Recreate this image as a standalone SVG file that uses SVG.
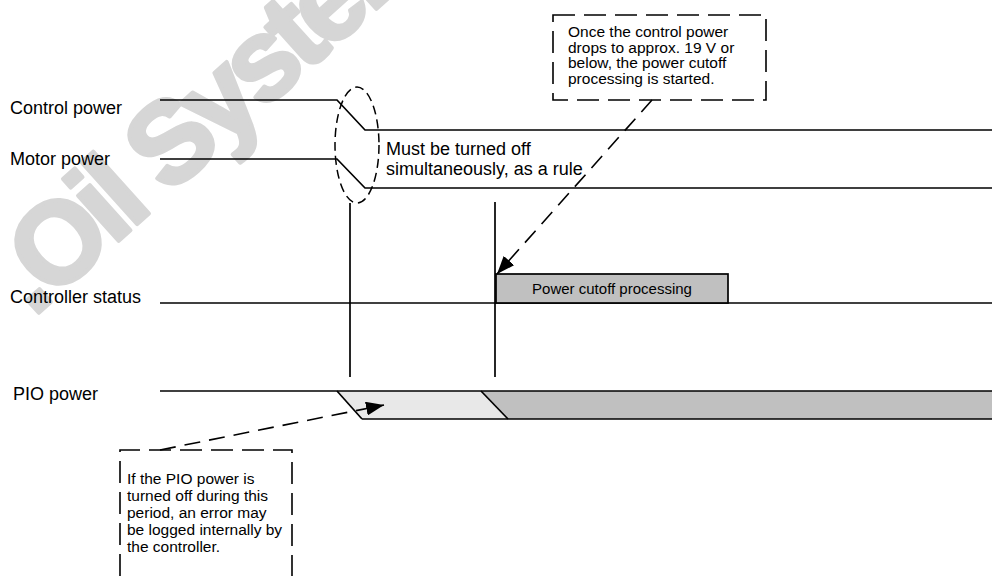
<svg xmlns="http://www.w3.org/2000/svg" width="992" height="576" viewBox="0 0 992 576">
<style>
text{font-family:"Liberation Sans",Arial,sans-serif;fill:#000}
.lbl{font-size:18px}
.note{font-size:15.5px}
.sig{fill:none;stroke:#000;stroke-width:1.7}
.dash{fill:none;stroke:#000;stroke-width:1.6;stroke-dasharray:22 9}
.arr{fill:none;stroke:#000;stroke-width:1.6;stroke-dasharray:16 9}
.wm{font-family:"Liberation Sans",Arial,sans-serif;font-weight:bold;font-size:115px;letter-spacing:-7px;fill:#d6d6d6;stroke:#d6d6d6;stroke-width:4;stroke-linejoin:round}
</style>
<defs>
<marker id="ah" markerUnits="userSpaceOnUse" markerWidth="18" markerHeight="14" refX="18" refY="7" orient="auto">
<path d="M0,0 L18,7 L0,14 z" fill="#000" stroke="none"/>
</marker>
</defs>
<rect width="992" height="576" fill="#fff"/>
<g id="watermark">
<text class="wm" transform="translate(33,318) rotate(-42)">.Oil Systems</text>
</g>
<g id="control-power">
<text class="lbl" x="10" y="114">Control power</text>
<polyline class="sig" points="160,100 337,100 365,130 992,130"/>
</g>
<g id="motor-power">
<text class="lbl" x="10" y="165">Motor power</text>
<polyline class="sig" points="160,159 337,159 365,188 992,188"/>
</g>
<g id="controller-status">
<text class="lbl" x="10" y="303">Controller status</text>
<line class="sig" x1="160" y1="303" x2="992" y2="303"/>
<rect x="496" y="274" width="232" height="29" fill="#c0c0c0" stroke="#000" stroke-width="1.7"/>
<text x="612" y="294" font-size="15" text-anchor="middle">Power cutoff processing</text>
</g>
<g id="pio-power">
<text class="lbl" x="13" y="400">PIO power</text>
<polygon points="337,391 481,391 508,419 362,419" fill="#e8e8e8"/>
<polygon points="481,391 992,391 992,419 508,419" fill="#c0c0c0"/>
<line class="sig" x1="160" y1="391" x2="992" y2="391"/>
<line class="sig" x1="362" y1="419" x2="992" y2="419"/>
<line class="sig" x1="337" y1="391" x2="362" y2="419"/>
<line class="sig" x1="481" y1="391" x2="508" y2="419"/>
</g>
<g id="note-simultaneous">
<ellipse cx="357" cy="145" rx="22" ry="58" fill="none" stroke="#000" stroke-width="1.5" stroke-dasharray="9 5"/>
<text class="lbl" x="386" y="155">Must be turned off</text>
<text class="lbl" x="386" y="175">simultaneously, as a rule</text>
</g>
<g id="note-cutoff">
<rect class="dash" x="553" y="15" width="213" height="85"/>
<text class="note" x="568" y="37">Once the control power</text>
<text class="note" x="568" y="52.6">drops to approx. 19 V or</text>
<text class="note" x="568" y="68.2">below, the power cutoff</text>
<text class="note" x="568" y="83.8">processing is started.</text>
</g>
<g id="note-pio">
<polyline class="dash" points="120,576 120,450 292,450 292,576"/>
<text class="note" x="127" y="484">If the PIO power is</text>
<text class="note" x="127" y="501">turned off during this</text>
<text class="note" x="127" y="518">period, an error may</text>
<text class="note" x="127" y="535">be logged internally by</text>
<text class="note" x="127" y="552">the controller.</text>
</g>
<g id="connectors">
<line class="sig" x1="350" y1="203" x2="350" y2="377"/>
<line class="sig" x1="495" y1="202" x2="495" y2="377"/>
<line class="arr" x1="652" y1="100" x2="497" y2="274" marker-end="url(#ah)"/>
<line class="arr" x1="160" y1="450" x2="384" y2="405" marker-end="url(#ah)"/>
</g>
</svg>
